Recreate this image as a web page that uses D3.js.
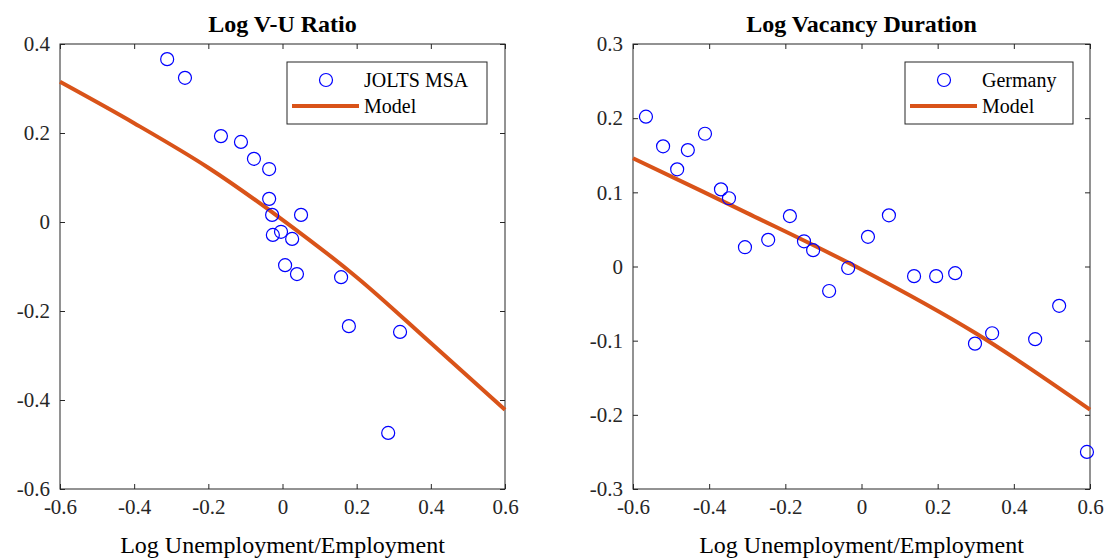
<!DOCTYPE html>
<html><head><meta charset="utf-8">
<script src="https://d3js.org/d3.v7.min.js"></script>
<style>body{margin:0;background:#fff}svg text{font-family:"Liberation Serif","Times New Roman",serif !important}</style>
</head><body>
<svg id="c" width="1106" height="559"></svg>
<script>
const leftX=[-0.311,-0.263,-0.166,-0.112,-0.077,-0.036,-0.036,-0.028,-0.026,-0.004,0.026,0.050,0.007,0.039,0.158,0.179,0.317,0.285];
const leftY=[0.366,0.324,0.193,0.180,0.142,0.119,0.052,0.016,-0.029,-0.022,-0.038,0.016,-0.097,-0.117,-0.124,-0.234,-0.247,-0.474];
const leftModelX=[-0.6,-0.4,-0.2,0,0.2,0.4,0.6];
const leftModelY=[0.315,0.222,0.122,0.005,-0.124,-0.272,-0.422];
const rightX=[-0.566,-0.521,-0.484,-0.456,-0.411,-0.369,-0.348,-0.306,-0.245,-0.188,-0.151,-0.127,-0.085,-0.035,0.017,0.072,0.138,0.196,0.246,0.298,0.343,0.456,0.519,0.592];
const rightY=[0.202,0.162,0.131,0.157,0.179,0.104,0.092,0.026,0.036,0.068,0.034,0.022,-0.033,-0.002,0.040,0.069,-0.013,-0.013,-0.009,-0.104,-0.090,-0.098,-0.053,-0.250];
const rightModelX=[-0.6,-0.3,0,0.3,0.6];
const rightModelY=[0.146,0.072,-0.004,-0.090,-0.193];
const xTicks=[-0.6,-0.4,-0.2,0,0.2,0.4,0.6];
const leftYTicks=[-0.6,-0.4,-0.2,0,0.2,0.4];
const rightYTicks=[-0.3,-0.2,-0.1,0,0.1,0.2,0.3];
const svg=d3.select("#c");
function fmt(v){return Math.abs(v)<1e-9?"0":String(+v.toFixed(1));}
function panel(o){
  const x=d3.scaleLinear().domain([-0.6,0.6]).range([o.x0,o.x1]);
  const y=d3.scaleLinear().domain(o.yd).range([489,44]);
  const g=svg.append("g");
  g.append("rect").attr("x",o.x0).attr("y",44).attr("width",o.x1-o.x0).attr("height",445).attr("fill","none").attr("stroke","#262626").attr("stroke-width",1);
  g.append("g").attr("transform","translate(0,489)").call(d3.axisBottom(x).tickValues(xTicks).tickSize(-5).tickPadding(10).tickFormat(fmt));
  g.append("g").attr("transform",`translate(${o.x0},0)`).call(d3.axisLeft(y).tickValues(o.yt).tickSize(-5).tickPadding(10).tickFormat(fmt));
  g.append("g").attr("transform","translate(0,44)").call(d3.axisTop(x).tickValues(xTicks).tickSize(-5).tickFormat(""));
  g.append("g").attr("transform",`translate(${o.x1},0)`).call(d3.axisRight(y).tickValues(o.yt).tickSize(-5).tickFormat(""));
  g.selectAll(".domain").remove();
  g.selectAll("g").attr("font-family","Liberation Serif").attr("font-size",21);
  g.selectAll(".tick line").attr("stroke","#262626");
  g.selectAll(".tick text").attr("fill","#262626");
  const line=d3.line().x(d=>x(d[0])).y(d=>y(d[1])).curve(d3.curveCatmullRom);
  g.append("path").datum(o.mx.map((v,i)=>[v,o.my[i]])).attr("d",line).attr("fill","none").attr("stroke","#D95319").attr("stroke-width",4);
  g.selectAll("circle.p").data(o.px.map((v,i)=>[v,o.py[i]])).join("circle").attr("cx",d=>x(d[0])).attr("cy",d=>y(d[1])).attr("r",6.5).attr("fill","none").attr("stroke","#0000FF").attr("stroke-width",1.2);
  g.append("text").attr("x",(o.x0+o.x1)/2).attr("y",32).attr("text-anchor","middle").attr("font-size",24).attr("font-weight","bold").text(o.title);
  g.append("text").attr("x",(o.x0+o.x1)/2).attr("y",553).attr("text-anchor","middle").attr("font-size",24).text("Log Unemployment/Employment");
  const lx=o.lx, lw=o.lw;
  g.append("rect").attr("x",lx).attr("y",62).attr("width",lw).attr("height",62).attr("fill","#fff").attr("stroke","#262626");
  g.append("circle").attr("cx",lx+39).attr("cy",80).attr("r",6.5).attr("fill","none").attr("stroke","#0000FF").attr("stroke-width",1.2);
  g.append("line").attr("x1",lx+5).attr("x2",lx+72).attr("y1",106).attr("y2",106).attr("stroke","#D95319").attr("stroke-width",4);
  g.append("text").attr("x",lx+77).attr("y",87).attr("font-size",20).text(o.leg);
  g.append("text").attr("x",lx+77).attr("y",113).attr("font-size",20).text("Model");
}
panel({x0:60,x1:505,yd:[-0.6,0.4],yt:leftYTicks,title:"Log V-U Ratio",px:leftX,py:leftY,mx:leftModelX,my:leftModelY,leg:"JOLTS MSA",lx:287,lw:200});
panel({x0:633,x1:1090,yd:[-0.3,0.3],yt:rightYTicks,title:"Log Vacancy Duration",px:rightX,py:rightY,mx:rightModelX,my:rightModelY,leg:"Germany",lx:905,lw:168});
</script>
</body></html>
